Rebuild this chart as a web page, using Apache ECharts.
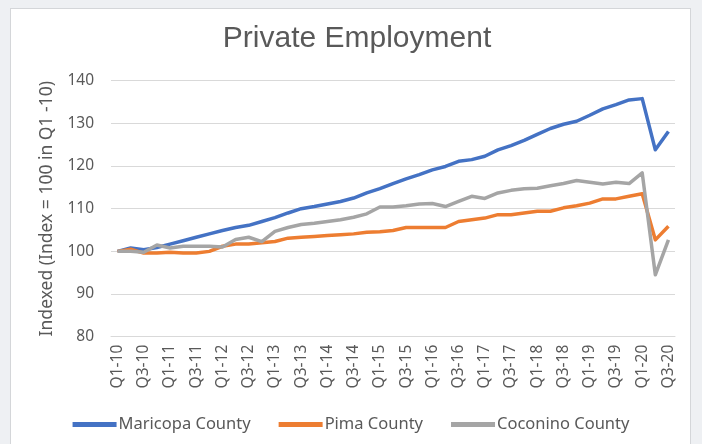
<!DOCTYPE html>
<html>
<head>
<meta charset="utf-8">
<script src="https://cdn.jsdelivr.net/npm/echarts@6/dist/echarts.min.js"></script>
<style>
html,body{margin:0;padding:0;background:#eef0f3;}
#frame{position:absolute;left:10px;top:8px;width:679px;height:460px;background:#fff;border:1px solid #d4d6d9;}
#chart{position:absolute;left:0;top:0;width:702px;height:444px;}
</style>
</head>
<body>
<div id="frame"></div>
<div id="chart"></div>
<script>
var categories = ["Q1-10","Q2-10","Q3-10","Q4-10","Q1-11","Q2-11","Q3-11","Q4-11","Q1-12","Q2-12","Q3-12","Q4-12",
"Q1-13","Q2-13","Q3-13","Q4-13","Q1-14","Q2-14","Q3-14","Q4-14","Q1-15","Q2-15","Q3-15","Q4-15",
"Q1-16","Q2-16","Q3-16","Q4-16","Q1-17","Q2-17","Q3-17","Q4-17","Q1-18","Q2-18","Q3-18","Q4-18",
"Q1-19","Q2-19","Q3-19","Q4-19","Q1-20","Q2-20","Q3-20"];

var maricopa = [100, 100.8, 100.4, 100.9, 101.7, 102.5, 103.3, 104.1, 104.9, 105.6,
  106.1, 107.0, 107.9, 109.0, 110.0, 110.5, 111.1, 111.7, 112.5, 113.7,
  114.7, 115.9, 117.0, 118.0, 119.1, 119.9, 121.1, 121.5, 122.3, 123.8,
  124.8, 126.0, 127.4, 128.8, 129.8, 130.5, 131.9, 133.4, 134.4, 135.5,
  135.8, 123.8, 128.1];

var pima = [100, 100.5, 99.6, 99.6, 99.8, 99.6, 99.6, 100.0, 101.2, 101.7,
  101.7, 102.0, 102.3, 103.1, 103.3, 103.5, 103.7, 103.9, 104.1, 104.5,
  104.6, 104.9, 105.6, 105.6, 105.6, 105.6, 107.0, 107.4, 107.8, 108.6,
  108.6, 109.0, 109.4, 109.4, 110.2, 110.7, 111.3, 112.3, 112.3, 112.9,
  113.5, 102.7, 105.9];

var coconino = [100, 100, 99.8, 101.5, 100.8, 101.2, 101.2, 101.2, 101.0, 102.8,
  103.3, 102.3, 104.7, 105.6, 106.3, 106.6, 107.0, 107.4, 108.0, 108.8,
  110.4, 110.4, 110.7, 111.1, 111.2, 110.5, 111.7, 112.9, 112.4, 113.7,
  114.3, 114.7, 114.8, 115.4, 115.9, 116.6, 116.2, 115.8, 116.2, 115.9,
  118.4, 94.5, 102.7];

var yTicks = [80, 90, 100, 110, 120, 130, 140];

var seriesNames = ["Maricopa County", "Pima County", "Coconino County"];
var seriesColors = ["#4472C4", "#ED7D31", "#A5A5A5"];
var seriesData = [maricopa, pima, coconino];

var chart = echarts.init(document.getElementById('chart'), null, {renderer: 'canvas'});
var textColor = '#595959';
var font = 'Noto Sans';

chart.setOption({
  animation: false,
  title: {
    text: 'Private Employment',
    left: 352, top: 19, textAlign: 'center',
    textStyle: {fontFamily: 'Liberation Sans', fontSize: 30, fontWeight: 'normal', color: textColor}
  },
  grid: {left: 111, right: 27, top: 80.7, bottom: 107.3, containLabel: false},
  legend: {
    bottom: 6, left: 'center',
    itemWidth: 44, itemHeight: 5, itemGap: 28,
    icon: 'rect',
    textStyle: {fontFamily: font, fontSize: 16.5, color: textColor, padding: [0,0,0,-3]},
    data: seriesNames
  },
  xAxis: {
    type: 'category',
    data: categories,
    boundaryGap: true,
    axisLine: {show: true, lineStyle: {color: '#d9d9d9', width: 1}},
    axisTick: {show: false},
    axisLabel: {interval: 1, rotate: 90, margin: 8, fontFamily: font, fontSize: 15.5, color: textColor}
  },
  yAxis: {
    type: 'value',
    min: yTicks[0], max: yTicks[yTicks.length - 1], interval: 10,
    name: 'Indexed (Index = 100 in Q1 -10)',
    nameLocation: 'middle', nameGap: 54, nameRotate: 90,
    nameTextStyle: {fontFamily: font, fontSize: 17.5, color: textColor},
    axisLine: {show: false},
    axisTick: {show: false},
    axisLabel: {margin: 17, fontFamily: font, fontSize: 15.5, color: textColor},
    splitLine: {lineStyle: {color: '#d9d9d9', width: 1}}
  },
  series: seriesData.map(function (d, i) {
    return {
      name: seriesNames[i], type: 'line', data: d,
      symbol: 'none', smooth: false,
      itemStyle: {color: seriesColors[i]},
      lineStyle: {color: seriesColors[i], width: 3.5, join: 'round'}
    };
  })
});
</script>
</body>
</html>
